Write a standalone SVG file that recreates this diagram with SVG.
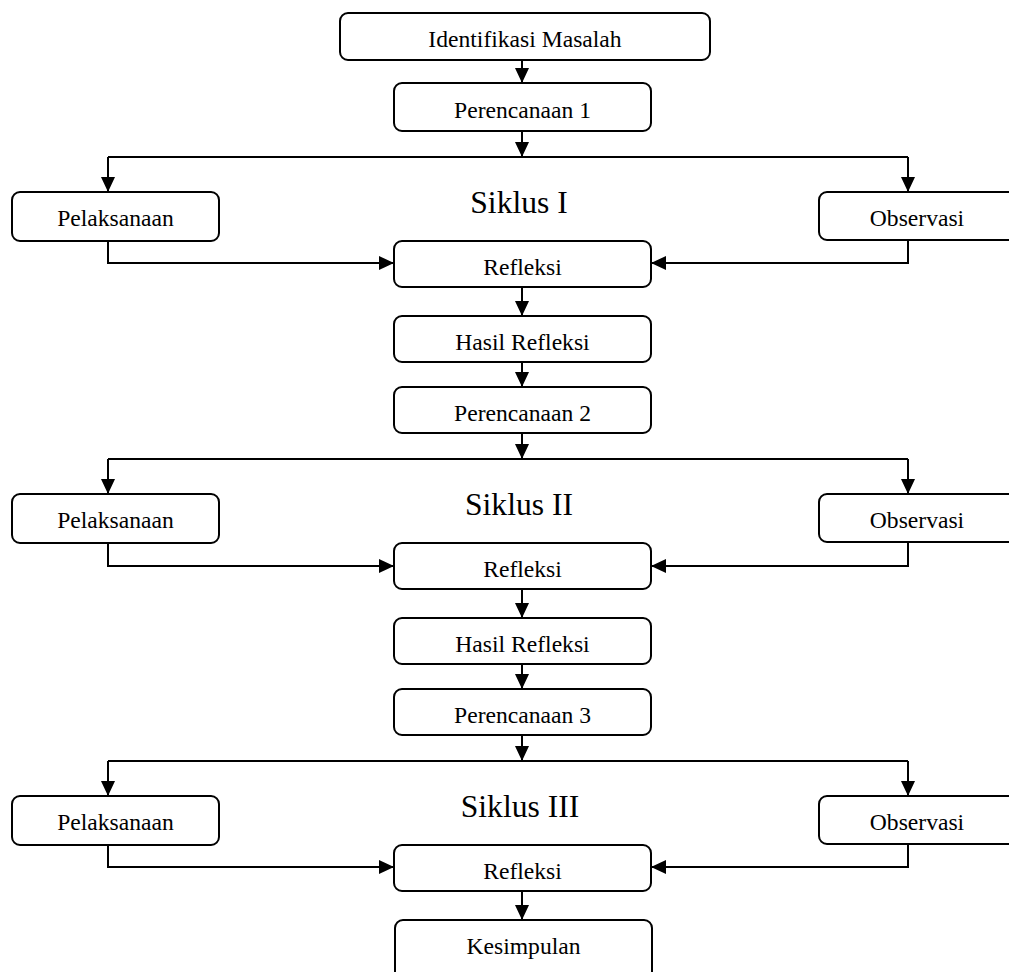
<svg xmlns="http://www.w3.org/2000/svg" width="1009" height="972" viewBox="0 0 1009 972">
<style>
.box{fill:#fff;stroke:#000;stroke-width:2}
.t{font-family:"Liberation Serif","Times New Roman",serif;font-size:23.6px;text-anchor:middle;fill:#000}
.big{font-family:"Liberation Serif","Times New Roman",serif;font-size:31.6px;text-anchor:middle;fill:#000}
.c{fill:none;stroke:#000;stroke-width:2}
</style>
<defs>
<marker id="ah" markerUnits="userSpaceOnUse" markerWidth="16" markerHeight="16" refX="15" refY="7" orient="auto">
<path d="M0,0 L15,7 L0,14 z" fill="#000"/>
</marker>
</defs>
<rect width="1009" height="972" fill="#fff"/>
<g id="connectors">
<path class="c" d="M522,60 V83" marker-end="url(#ah)"/>
<path class="c" d="M522,131 V157" marker-end="url(#ah)"/>
<!-- cycle 1 -->
<path class="c" d="M108,157 H908"/>
<path class="c" d="M108,157 V192" marker-end="url(#ah)"/>
<path class="c" d="M908,157 V192" marker-end="url(#ah)"/>
<path class="c" d="M108,241 V263 H394" marker-end="url(#ah)"/>
<path class="c" d="M908,240 V263 H651" marker-end="url(#ah)"/>
<path class="c" d="M522,287 V316" marker-end="url(#ah)"/>
<path class="c" d="M522,362 V387" marker-end="url(#ah)"/>
<path class="c" d="M522,433 V459" marker-end="url(#ah)"/>
<!-- cycle 2 -->
<path class="c" d="M108,459 H908"/>
<path class="c" d="M108,459 V494" marker-end="url(#ah)"/>
<path class="c" d="M908,459 V494" marker-end="url(#ah)"/>
<path class="c" d="M108,543 V566 H394" marker-end="url(#ah)"/>
<path class="c" d="M908,542 V566 H651" marker-end="url(#ah)"/>
<path class="c" d="M522,589 V618" marker-end="url(#ah)"/>
<path class="c" d="M522,664 V689" marker-end="url(#ah)"/>
<path class="c" d="M522,735 V761" marker-end="url(#ah)"/>
<!-- cycle 3 -->
<path class="c" d="M108,761 H908"/>
<path class="c" d="M108,761 V796" marker-end="url(#ah)"/>
<path class="c" d="M908,761 V796" marker-end="url(#ah)"/>
<path class="c" d="M108,845 V867 H394" marker-end="url(#ah)"/>
<path class="c" d="M908,844 V867 H651" marker-end="url(#ah)"/>
<path class="c" d="M522,891 V920" marker-end="url(#ah)"/>
</g>
<g id="identifikasi"><rect class="box" x="340" y="13" width="370" height="47" rx="8"/><text class="t" x="525" y="47">Identifikasi Masalah</text></g>
<g id="perencanaan1"><rect class="box" x="394" y="83" width="257" height="48" rx="8"/><text class="t" x="522.5" y="118">Perencanaan 1</text></g>

<g id="siklus1"><text class="big" x="519" y="213">Siklus I</text></g>
<g id="pelaksanaan1"><rect class="box" x="12" y="192" width="207" height="49" rx="8"/><text class="t" x="115.5" y="226">Pelaksanaan</text></g>
<g id="observasi1"><rect class="box" x="819" y="192" width="200" height="48" rx="8"/><text class="t" x="917" y="226">Observasi</text></g>
<g id="refleksi1"><rect class="box" x="394" y="241" width="257" height="46" rx="8"/><text class="t" x="522.5" y="275">Refleksi</text></g>
<g id="hasil1"><rect class="box" x="394" y="316" width="257" height="46" rx="8"/><text class="t" x="522.5" y="350">Hasil Refleksi</text></g>
<g id="perencanaan2"><rect class="box" x="394" y="387" width="257" height="46" rx="8"/><text class="t" x="522.5" y="421">Perencanaan 2</text></g>

<g id="siklus2"><text class="big" x="519" y="515">Siklus II</text></g>
<g id="pelaksanaan2"><rect class="box" x="12" y="494" width="207" height="49" rx="8"/><text class="t" x="115.5" y="528">Pelaksanaan</text></g>
<g id="observasi2"><rect class="box" x="819" y="494" width="200" height="48" rx="8"/><text class="t" x="917" y="528">Observasi</text></g>
<g id="refleksi2"><rect class="box" x="394" y="543" width="257" height="46" rx="8"/><text class="t" x="522.5" y="577">Refleksi</text></g>
<g id="hasil2"><rect class="box" x="394" y="618" width="257" height="46" rx="8"/><text class="t" x="522.5" y="652">Hasil Refleksi</text></g>
<g id="perencanaan3"><rect class="box" x="394" y="689" width="257" height="46" rx="8"/><text class="t" x="522.5" y="723">Perencanaan 3</text></g>

<g id="siklus3"><text class="big" x="520" y="817">Siklus III</text></g>
<g id="pelaksanaan3"><rect class="box" x="12" y="796" width="207" height="49" rx="8"/><text class="t" x="115.5" y="830">Pelaksanaan</text></g>
<g id="observasi3"><rect class="box" x="819" y="796" width="200" height="48" rx="8"/><text class="t" x="917" y="830">Observasi</text></g>
<g id="refleksi3"><rect class="box" x="394" y="845" width="257" height="46" rx="8"/><text class="t" x="522.5" y="879">Refleksi</text></g>
<g id="kesimpulan"><rect class="box" x="395" y="920" width="257" height="70" rx="8"/><text class="t" x="523.5" y="954">Kesimpulan</text></g>
</svg>
